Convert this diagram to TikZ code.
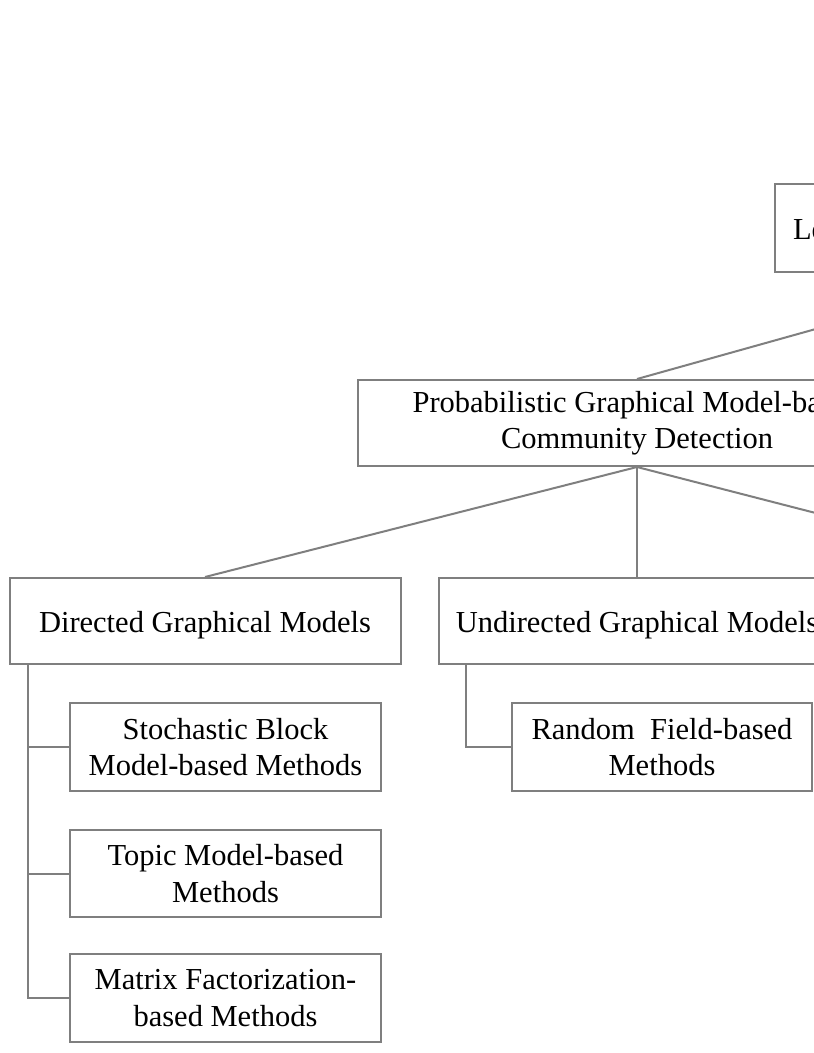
\documentclass[tikz,border=0pt]{standalone}
\usepackage{fontspec}
\setmainfont{Liberation Serif}
\definecolor{linegray}{HTML}{7F7F7F}
\begin{document}
\begin{tikzpicture}[x=1pt,y=-1pt,
  box/.style={draw=linegray, line width=2pt, fill=white, align=center,
    font=\fontsize{30.5}{36.5}\selectfont, inner sep=0pt, minimum height=87pt},
  oneline/.style={box,
    execute at begin node={\rule{0pt}{30pt}},
    execute at end node={\rule[-8pt]{0pt}{8pt}}},
  conn/.style={draw=linegray, line width=2pt}]
\useasboundingbox (0,0) rectangle (814,1053);
\clip (0,0) rectangle (814,1053);
% nodes
\node[oneline, text width=446pt, align=left, inner xsep=18pt, minimum height=88pt] (top) at (1016,228) {Le};
\node[box, minimum width=558pt, minimum height=86pt] (pgm) at (637,423) {Probabilistic Graphical Model-based\\Community Detection};
\node[oneline, minimum width=391pt, minimum height=86pt] (dgm) at (205,621) {Directed Graphical Models};
\node[oneline, minimum width=396pt, minimum height=86pt] (ugm) at (637,621) {Undirected Graphical Models};
\coordinate (third) at (1068,578);
\node[box, minimum width=311pt, minimum height=88pt] (sbm) at (225.5,747) {Stochastic Block\\Model-based Methods};
\node[box, minimum width=311pt] (topic) at (225.5,873.5) {Topic Model-based\\Methods};
\node[box, minimum width=311pt, minimum height=88pt] (matrix) at (225.5,998) {Matrix Factorization-\\based Methods};
\node[box, minimum width=300pt, minimum height=88pt] (rf) at (662,747) {Random~ Field-based\\Methods};
% connectors
\draw[conn] (top.south) -- (pgm.north);
\draw[conn] (pgm.south) -- (dgm.north);
\draw[conn] (pgm.south) -- (ugm.north);
\draw[conn] (pgm.south) -- (third);
\draw[conn] ([xshift=19pt]dgm.south west) |- (sbm.west);
\draw[conn] ([xshift=19pt]dgm.south west) |- (topic.west);
\draw[conn] ([xshift=19pt]dgm.south west) |- (matrix.west);
\draw[conn] ([xshift=28pt]ugm.south west) |- (rf.west);
\end{tikzpicture}
\end{document}
